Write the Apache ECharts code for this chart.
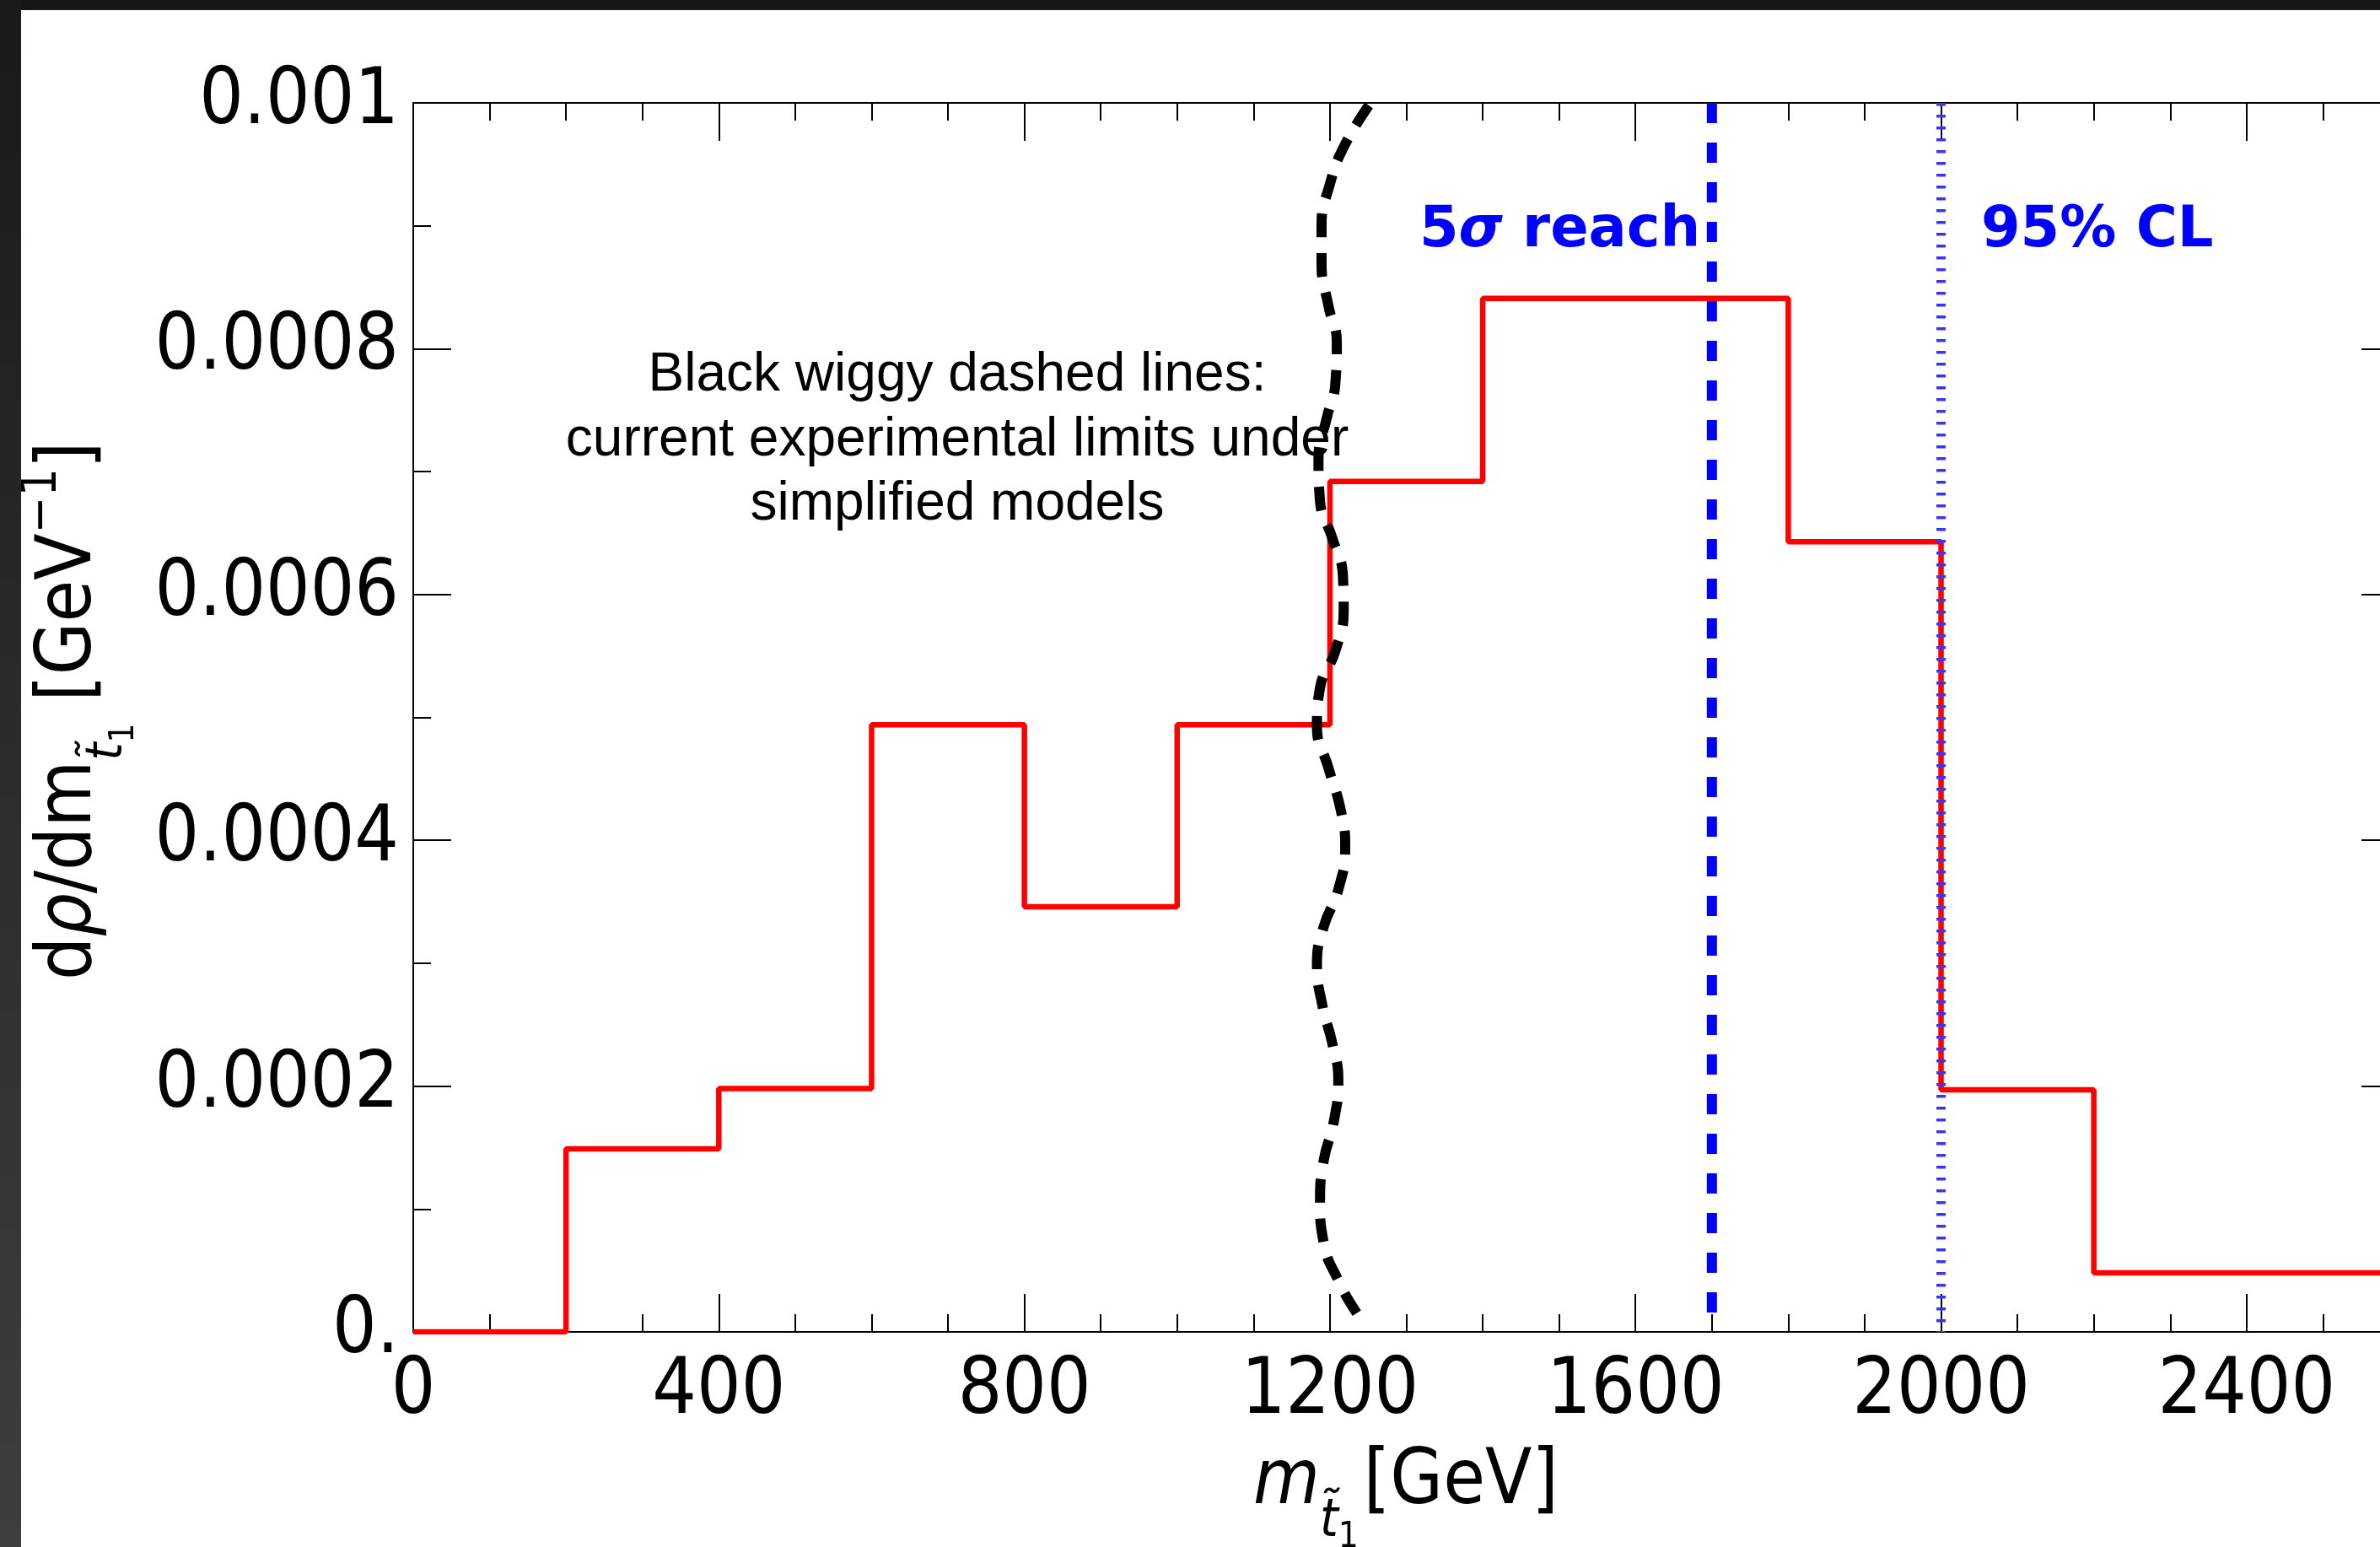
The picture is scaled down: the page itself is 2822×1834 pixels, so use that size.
<!DOCTYPE html>
<html><head><meta charset="utf-8">
<script src="https://cdn.jsdelivr.net/npm/echarts@6.0.0/dist/echarts.min.js"></script>
<style>html,body{margin:0;padding:0;background:#fff;overflow:hidden}#c{width:2822px;height:1834px;}</style>
</head><body><div id="c"></div>
<script>
// ---------- data ----------
const binEdges  = [0, 200, 400, 600, 800, 1000, 1200, 1400, 1600, 1800, 2000, 2200, 2400, 2600];
const binValues = [0, 0.000149, 0.000198, 0.000494, 0.000346, 0.000494, 0.000692, 0.000841, 0.000841, 0.000643, 0.000197, 0.000048, 0.000048];

const limitX = [1251, 1218, 1200, 1189, 1189, 1198, 1209, 1207, 1196, 1185, 1187, 1203, 1217, 1218, 1207, 1187, 1183, 1198, 1214, 1220, 1211, 1192, 1183, 1190, 1203, 1211, 1205, 1192, 1187, 1192, 1211, 1236, 1247];
const limitY = [0.000998, 0.000964, 0.000934, 0.000900, 0.000870, 0.000835, 0.000805, 0.000771, 0.000744, 0.000710, 0.000676, 0.000646, 0.000615, 0.000588, 0.000554, 0.000524, 0.000493, 0.000459, 0.000425, 0.000395, 0.000360, 0.000330, 0.000299, 0.000266, 0.000235, 0.000205, 0.000171, 0.000140, 0.000106, 0.000072, 0.000042, 0.0000144, 0.0000075];

const reach5sigma = 1700;
const cl95 = 2000;

const xTickValues = [0, 400, 800, 1200, 1600, 2000, 2400];
const xTickLabels = ['0', '400', '800', '1200', '1600', '2000', '2400'];
const yTickValues = [0, 0.0002, 0.0004, 0.0006, 0.0008, 0.001];
const yTickLabels = ['0.', '0.0002', '0.0004', '0.0006', '0.0008', '0.001'];

const noteLines = ['Black wiggy dashed lines:', 'current experimental limits under', 'simplified models'];

// ---------- font helpers ----------
const mctx = document.createElement('canvas').getContext('2d');
function tw(font, s) { mctx.font = font; return mctx.measureText(s).width; }
const condOK = tw('80px "DejaVu Sans Condensed", monospace', '0.0002 GeV') < 0.95 * tw('80px "DejaVu Sans", monospace', '0.0002 GeV');
const tickFam = condOK ? '"DejaVu Sans Condensed", "DejaVu Sans"' : '"DejaVu Sans"';
const tickSize = condOK ? 92 : 85;
const labScale = condOK ? 1 : 0.9;

function row(pieces, family, weight) {
  let x = 0; const children = [];
  for (const p of pieces) {
    const font = (p.italic ? 'italic ' : '') + (weight || 'normal') + ' ' + p.size + 'px ' + family;
    x += (p.dx || 0);
    children.push({
      type: 'text', x: x, y: (p.dy || 0) - 0.346 * p.size, z: 50,
      style: { text: p.text, font: font, fill: p.color || '#000', align: 'left', verticalAlign: 'middle', textAlign: 'left', textVerticalAlign: 'middle' }
    });
    x += tw(font, p.text);
  }
  return children;
}

const chart = echarts.init(document.getElementById('c'), null, { renderer: 'canvas', width: 2822, height: 1834 });

const axisLine = { show: true, onZero: false, lineStyle: { color: '#000', width: 2 } };
const tickStyle = { color: '#000', width: 2 };
const xMin = 0, xMax = 2600;

function xMajor(pos, showLabel) {
  return {
    type: 'value', position: pos, min: xMin, max: xMax, interval: 400,
    axisLine: axisLine,
    axisTick: { show: true, inside: true, length: 45, lineStyle: tickStyle },
    axisLabel: {
      show: showLabel, showMaxLabel: false, margin: 26, color: '#000', fontSize: tickSize, fontFamily: tickFam,
      formatter: v => { const i = xTickValues.indexOf(v); return i >= 0 ? xTickLabels[i] : ''; }
    },
    splitLine: { show: false }
  };
}
function xMinor(pos) {
  return {
    type: 'value', position: pos, min: xMin, max: xMax, interval: 100,
    axisLine: { show: false, onZero: false },
    axisTick: { show: true, inside: true, length: 21, lineStyle: tickStyle },
    axisLabel: { show: false }, splitLine: { show: false }
  };
}
function yAx(pos, showLabel) {
  return {
    type: 'value', position: pos, min: 0, max: 0.001, interval: 0.0002,
    axisLine: axisLine,
    axisTick: { show: true, inside: true, length: 45, lineStyle: tickStyle },
    minorTick: { show: true, splitNumber: 2, length: 21, lineStyle: tickStyle },
    axisLabel: {
      show: showLabel, margin: 17, color: '#000', fontSize: tickSize, fontFamily: tickFam,
      formatter: v => { const i = yTickValues.findIndex(t => Math.abs(t - v) < 1e-10); return i >= 0 ? yTickLabels[i] : ''; }
    },
    splitLine: { show: false }, minorSplitLine: { show: false }
  };
}

const graphics = [];
// dark frame around the screenshot
graphics.push({ type: 'rect', z: 100, shape: { x: 0, y: 0, width: 2822, height: 12 }, style: { fill: '#161616' } });
graphics.push({ type: 'rect', z: 100, shape: { x: 0, y: 0, width: 25, height: 1834 },
  style: { fill: new echarts.graphic.LinearGradient(0, 0, 0, 1, [{ offset: 0, color: '#1a1a1a' }, { offset: 1, color: '#3e3e3e' }]) } });

// y axis title (rotated)
graphics.push({ type: 'group', x: 115, y: 1162, rotation: Math.PI / 2, scaleX: labScale,
  children: row([
    { text: 'd', size: 90 }, { text: 'ρ', size: 90, italic: true }, { text: '/dm', size: 90 },
    { text: 't\u0303', size: 60, italic: true, dy: 34 }, { text: '1', size: 40, dy: 46 },
    { text: ' [GeV', size: 90 }, { text: '\u22121', size: 58, dy: -44 }, { text: ']', size: 90 }
  ], tickFam) });
// x axis title
graphics.push({ type: 'group', x: 1486, y: 1790, scaleX: labScale,
  children: row([
    { text: 'm', size: 90, italic: true }, { text: 't\u0303', size: 62, italic: true, dy: 36 },
    { text: '1', size: 42, dy: 48 }, { text: '[GeV]', size: 90, dx: 6 }
  ], tickFam) });
// annotations
graphics.push({ type: 'group', x: 1683, y: 298, children: row([
  { text: '5', size: 67, color: '#0000ff' }, { text: 'σ', size: 67, italic: true, color: '#0000ff' }, { text: ' reach', size: 67, color: '#0000ff' }
], '"DejaVu Sans"', 'bold') });
graphics.push({ type: 'group', x: 2349, y: 298, children: row([
  { text: '95% CL', size: 67, color: '#0000ff' }
], '"DejaVu Sans"', 'bold') });
const noteBase = [468, 545, 621];
noteLines.forEach((t, i) => {
  graphics.push({ type: 'text', x: 1135, y: noteBase[i] - 0.3465 * 64, z: 50,
    style: { text: t, font: 'normal 64px "Liberation Sans", Arial, sans-serif', fill: '#000', align: 'center', verticalAlign: 'middle', textAlign: 'center', textVerticalAlign: 'middle' } });
});

const stepData = binEdges.map((x, i) => [x, binValues[Math.min(i, binValues.length - 1)]]);
const limitData = limitX.map((x, i) => [x, limitY[i]]);

chart.setOption({
  animation: false,
  backgroundColor: '#ffffff',
  grid: { left: 490, top: 122, width: 2355, height: 1457, containLabel: false, outerBoundsMode: 'none' },
  xAxis: [xMajor('bottom', true), xMinor('bottom'), xMajor('top', false), xMinor('top')],
  yAxis: [yAx('left', true), yAx('right', false)],
  series: [
    { type: 'line', name: 'density', xAxisIndex: 0, yAxisIndex: 0, step: 'end', data: stepData, showSymbol: false, symbol: 'none', z: 2,
      lineStyle: { color: '#ff0000', width: 6.5 } },
    { type: 'line', name: 'limits', xAxisIndex: 0, yAxisIndex: 0, data: limitData, smooth: 0.5, showSymbol: false, symbol: 'none', z: 3,
      lineStyle: { color: '#000000', width: 12, type: [28, 19], cap: 'butt' } },
    { type: 'line', name: '5sigma', xAxisIndex: 0, yAxisIndex: 0, data: [[reach5sigma, 0.001], [reach5sigma, 0]], showSymbol: false, symbol: 'none', z: 4,
      lineStyle: { color: '#0000ff', width: 12, type: [24, 23], cap: 'butt' } },
    { type: 'line', name: '95CL', xAxisIndex: 0, yAxisIndex: 0, data: [[cl95, 0.001], [cl95, 0]], showSymbol: false, symbol: 'none', z: 4,
      lineStyle: { color: '#3535ff', width: 11, type: [3.5, 10.5], cap: 'butt' } }
  ],
  graphic: graphics
});
</script></body></html>
